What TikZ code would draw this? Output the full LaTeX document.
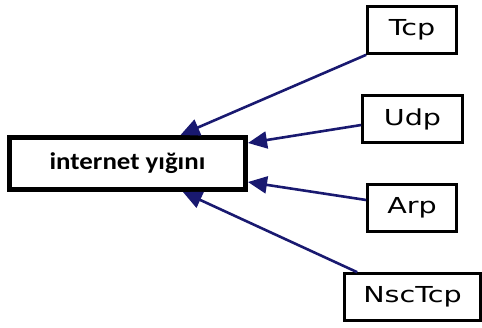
\documentclass[tikz,border=0pt]{standalone}
\usepackage{fontspec}
\newfontfamily\childfont[FakeStretch=1.3]{DejaVu Sans}
\newfontfamily\mainfont[FakeStretch=1.12]{Carlito}
\usetikzlibrary{arrows.meta,calc}
\definecolor{edgeblue}{RGB}{25,25,112}
\tikzset{
  childbox/.style={draw=black,line width=2.6pt,rectangle,inner sep=0pt,minimum height=47pt,font=\childfont\fontsize{22}{26}\selectfont},
  mainbox/.style={draw=black,line width=5pt,rectangle,inner sep=0pt,minimum width=236pt,minimum height=52pt,font=\mainfont\bfseries\fontsize{24}{28}\selectfont},
  arr/.style={draw=edgeblue,line width=2.6pt,-{Triangle[length=19pt,width=17pt]}}
}
\begin{document}
\begin{tikzpicture}[x=1pt,y=-1pt]
\useasboundingbox (0,0) rectangle (482,327);
\node[mainbox] (main) at (127.5,163.5) {internet yığını};
\node[childbox,minimum width=89pt] (tcp) at (412,30) {Tcp};
\node[childbox,minimum width=100pt] (udp) at (412.5,119) {Udp};
\node[childbox,minimum width=89pt] (arp) at (412,208) {Arp};
\node[childbox,minimum width=136pt] (nsc) at (412.5,297) {NscTcp};
\draw[arr] (tcp.south west) -- ($(main.north west)!0.72!(main.north east)$);
\draw[arr] ($(udp.west)+(0,6)$) -- ($(main.north east)+(0,8)$);
\draw[arr] ($(arp.west)+(0,-8)$) -- ($(main.south east)+(0,-10)$);
\draw[arr] ($(nsc.north west)+(14,0)$) -- ($(main.south west)!0.73!(main.south east)$);
\end{tikzpicture}
\end{document}
